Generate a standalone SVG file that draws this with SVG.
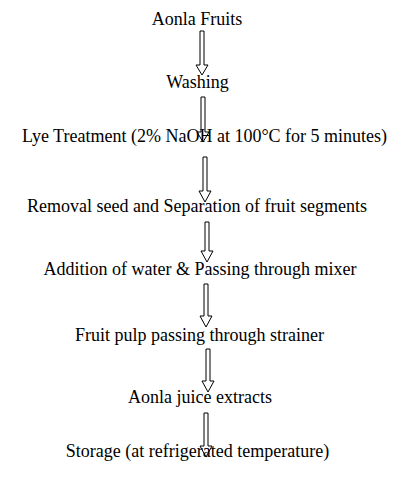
<svg xmlns="http://www.w3.org/2000/svg" width="400" height="487" viewBox="0 0 400 487">
<style>
text{font-family:"Liberation Serif","Times New Roman",serif;font-size:18px;fill:#000;text-anchor:middle}
.arr{fill:#fff;stroke:#000;stroke-width:1}
</style>
<rect width="400" height="487" fill="#fff"/>
<g id="connectors">
<path class="arr" d="M200,31 H204 V65 H208 L202,75 L196,65 H200 Z"/>
<path class="arr" d="M201,97 H205 V132 H209 L203,142 L197,132 H201 Z"/>
<path class="arr" d="M203,157 H207 V191 H211 L205,202 L199,191 H203 Z"/>
<path class="arr" d="M205,222 H209 V251 H213 L207,262 L201,251 H205 Z"/>
<path class="arr" d="M204,284 H208 V316 H212 L206,327 L200,316 H204 Z"/>
<path class="arr" d="M206,349 H210 V381 H214 L208,392 L202,381 H206 Z"/>
<path class="arr" d="M204,413 H208 V446 H212 L206,457 L200,446 H204 Z"/>
</g>
<g id="n1"><text x="197" y="25">Aonla Fruits</text></g>
<g id="n2"><text x="197.5" y="88">Washing</text></g>
<g id="n3"><text x="204.5" y="142">Lye Treatment (2% NaOH at 100°C for 5 minutes)</text></g>
<g id="n4"><text x="197" y="212">Removal seed and Separation of fruit segments</text></g>
<g id="n5"><text x="200" y="275">Addition of water &amp; Passing through mixer</text></g>
<g id="n6"><text x="199.5" y="341">Fruit pulp passing through strainer</text></g>
<g id="n7"><text x="200" y="403">Aonla juice extracts</text></g>
<g id="n8"><text x="197.5" y="457">Storage (at refrigerated temperature)</text></g>
</svg>
